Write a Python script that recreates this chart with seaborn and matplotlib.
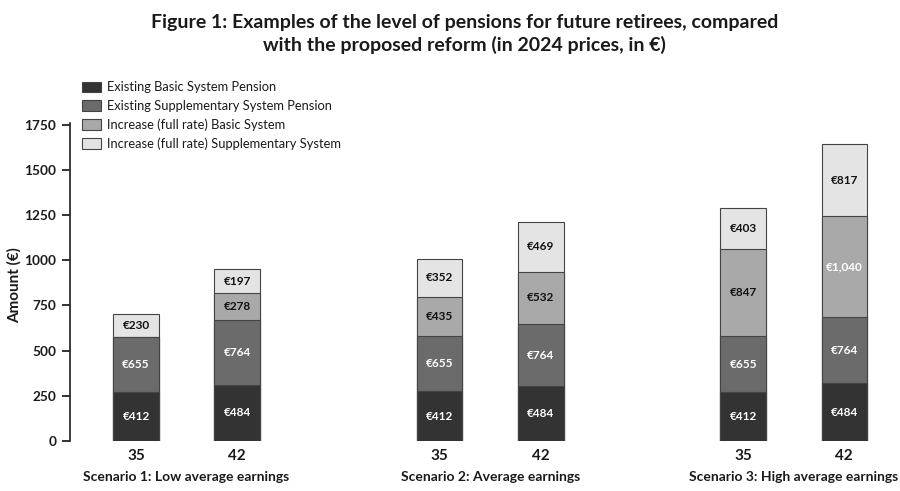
import matplotlib
matplotlib.use("Agg")
import matplotlib.pyplot as plt
import seaborn as sns
import numpy as np
import pandas as pd

# ---- data ----
bar_positions = [0, 1, 3, 4, 6, 7]
tick_labels = ["35", "42", "35", "42", "35", "42"]
scenario_labels = ["Scenario 1: Low average earnings",
                   "Scenario 2: Average earnings",
                   "Scenario 3: High average earnings"]
series_names = ["Existing Basic System Pension",
                "Existing Supplementary System Pension",
                "Increase (full rate) Basic System",
                "Increase (full rate) Supplementary System"]
# drawn segment heights
basic_existing = [272, 312, 275, 303, 272, 318]
supp_existing = [303, 358, 303, 343, 306, 367]
basic_increase = [0, 150, 217, 290, 486, 557]
supp_increase = [128, 129, 214, 275, 226, 400]
# printed labels
basic_existing_lbl = ["€412", "€484", "€412", "€484", "€412", "€484"]
supp_existing_lbl = ["€655", "€764", "€655", "€764", "€655", "€764"]
basic_increase_lbl = ["", "€278", "€435", "€532", "€847", "€1,040"]
supp_increase_lbl = ["€230", "€197", "€352", "€469", "€403", "€817"]

colors = ["#333333", "#6b6b6b", "#a9a9a9", "#e4e4e4"]
label_colors = ["white", "white", "#111111", "#111111"]

sns.set_theme(style="ticks")
plt.rcParams["font.family"] = ["Lato", "DejaVu Sans"]
plt.rcParams["text.color"] = "#1a1a1a"
plt.rcParams["xtick.color"] = "#1a1a1a"
plt.rcParams["ytick.color"] = "#1a1a1a"

layers = [basic_existing, supp_existing, basic_increase, supp_increase]
labels = [basic_existing_lbl, supp_existing_lbl, basic_increase_lbl, supp_increase_lbl]
cum = np.cumsum(np.array(layers), axis=0)

fig = plt.figure(figsize=(9, 4.91), dpi=100)
ax = fig.add_axes([0.078, 0.102, 0.922, 0.6477])

# draw cumulative bars from the top layer downwards (classic seaborn stacking)
for i in range(3, -1, -1):
    df = pd.DataFrame({"pos": bar_positions, "total": cum[i]})
    sns.barplot(data=df, x="pos", y="total", native_scale=True, width=0.45,
                color=colors[i], saturation=1, edgecolor="#444444",
                linewidth=0.8, ax=ax, errorbar=None, label=series_names[i])

# segment labels
for i in range(4):
    for j, p in enumerate(bar_positions):
        h = layers[i][j]
        if h <= 0 or not labels[i][j]:
            continue
        bottom = cum[i][j] - h
        col = label_colors[i]
        if i == 2 and labels[i][j] == "€1,040":
            col = "white"
        ax.text(p, bottom + h / 2, labels[i][j], ha="center", va="center",
                fontsize=8.5, fontweight="bold", color=col)

ax.set_xlim(-0.65, 7.55)
ax.set_ylim(0, 1760)
ax.set_yticks([0, 250, 500, 750, 1000, 1250, 1500, 1750])
ax.set_xticks(bar_positions)
ax.set_xticklabels(tick_labels, fontsize=11, fontweight="bold")
ax.tick_params(axis="y", labelsize=9.8, pad=4)
for t in ax.get_yticklabels():
    t.set_fontweight("bold")
ax.set_xlabel("")
ax.set_ylabel("")
fig.text(0.016, 0.42, "Amount (€)", rotation=90,
         ha="center", va="center", fontsize=11, fontweight="bold")
ax.tick_params(axis="x", length=0, pad=6)
sns.despine(ax=ax, bottom=True)

# scenario labels
for k, name in enumerate(scenario_labels):
    mid = (bar_positions[2 * k] + bar_positions[2 * k + 1]) / 2
    ax.text(mid, -0.113, name, transform=ax.get_xaxis_transform(),
            ha="center", va="center", fontsize=10, fontweight="bold")

# legend in original order
handles, lbls = ax.get_legend_handles_labels()
order = [lbls.index(n) for n in series_names]
ax.legend([handles[o] for o in order], series_names, loc="upper left",
          bbox_to_anchor=(0.005, 1.155), frameon=False, fontsize=9.3,
          handlelength=1.5, handleheight=0.9, labelspacing=0.5,
          borderaxespad=0.2, handletextpad=0.45)

fig.suptitle("Figure 1: Examples of the level of pensions for future retirees, compared\n"
             "with the proposed reform (in 2024 prices, in €)",
             x=0.516, y=0.972, fontsize=14, fontweight="bold", linespacing=1.35)

fig.savefig("out.png", dpi=100)
